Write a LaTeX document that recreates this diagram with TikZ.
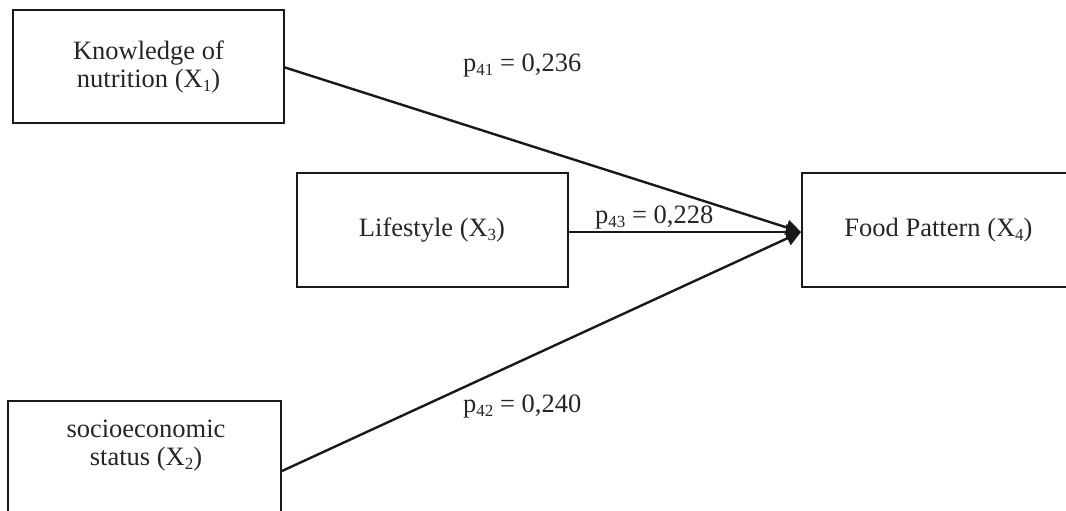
\documentclass[tikz,border=0pt]{standalone}
\usepackage{fontspec}
\setmainfont{Liberation Serif}
\usetikzlibrary{arrows.meta}
\newcommand\sub[1]{\raisebox{-0.35ex}{\fontsize{17}{17}\selectfont #1}}
\tikzset{
  box/.style={draw=black!90, line width=2pt, minimum width=271pt, minimum height=113pt, inner sep=0pt, align=center, font=\fontsize{26.5}{28}\selectfont, text=black!85},
  txt/.style={inner sep=0pt, align=center, font=\fontsize{26.5}{28}\selectfont, text=black!85},
  conn/.style={line width=2.4pt, draw=black!90, -{Triangle[length=15pt,width=15pt]}},
}
\begin{document}
\begin{tikzpicture}[x=1pt,y=-1pt]
\useasboundingbox (0,0) rectangle (1066,511);
\clip (0,0) rectangle (1066,511);
\node[box] (k) at (148.5,66.5) {Knowledge of\\nutrition (X\sub{1})};
\node[box, minimum height=114pt] (l) at (432,230) {Lifestyle (X\sub{3})};
\node[box, minimum width=273pt, minimum height=114pt] (f) at (938.5,230) {Food Pattern (X\sub{4})};
\node[box, minimum width=273pt, minimum height=140pt] (s) at (144.5,471) {};
\node[txt, anchor=base] (st) at (146,465) {socioeconomic\\status (X\sub{2})};
\coordinate (tip) at ([yshift=-2pt]f.west);
\draw[conn] ([yshift=-1pt]k.east) -- (tip);
\draw[conn] (l.east |- tip) -- (tip);
\draw[conn] (s.east) -- (tip);
\node[txt, anchor=base west] (p41) at (463,71) {p\sub{41} = 0,236};
\node[txt, anchor=base west] (p43) at (595,223) {p\sub{43} = 0,228};
\node[txt, anchor=base west] (p42) at (463,412) {p\sub{42} = 0,240};
\end{tikzpicture}
\end{document}
